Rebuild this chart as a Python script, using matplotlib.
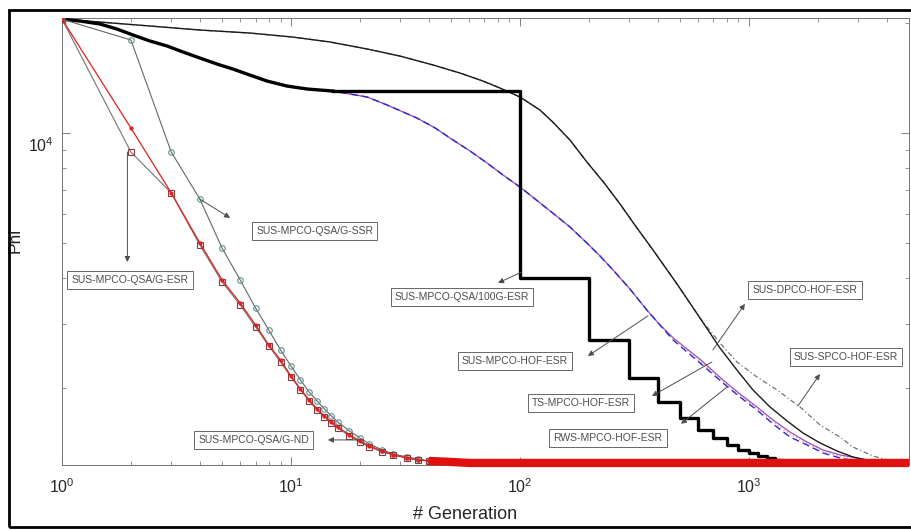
#!/usr/bin/env python
# encoding: utf-8

"""Phi vs generation for the MPCO / SPCO / DPCO variants (log-log)"""

import numpy as np
import matplotlib as mpl
import matplotlib.pyplot as plt
from matplotlib import ticker
from matplotlib.patches import Rectangle
from matplotlib.transforms import ScaledTranslation

mpl.rcParams.update({
    "font.family": ["Liberation Sans", "DejaVu Sans"],
    "mathtext.fontset": "custom",
    "mathtext.rm": "Liberation Sans",
    "axes.linewidth": 0.7,
    "axes.edgecolor": "0.45",
})

# --- QSA per-generation runs (markers at integer generations) ---
nd_gen = np.array([1, 2, 3, 4, 5, 6, 7, 8, 9, 10, 11, 12, 13, 14, 15, 16,
                   18, 20, 22, 25, 28, 32, 36, 40, 50, 60, 5000])
nd_phi = np.array([20510, 10320, 6850, 4996, 3957, 3421, 2979, 2626, 2388,
                   2159, 1990, 1856, 1753, 1677, 1615, 1565, 1488, 1433,
                   1388, 1346, 1312, 1287, 1271, 1263, 1255, 1247, 1247])

esr_gen = np.array([1, 2, 3, 4, 5, 6, 7, 8, 9, 10, 11, 12, 13, 14, 15, 16,
                    18, 20, 22, 25, 28, 32, 36, 40, 50, 60])
esr_phi = np.array([20510, 8870, 6850, 4933, 3907, 3379, 2941, 2609, 2358,
                    2145, 1977, 1844, 1742, 1667, 1605, 1555, 1479, 1423,
                    1379, 1337, 1312, 1287, 1271, 1263, 1255, 1247])

ssr_gen = np.array([1, 2, 3, 4, 5, 6, 7, 8, 9, 10, 11, 12, 13, 14, 15, 16,
                    18, 20, 22, 25, 28, 32, 36, 40, 50, 60])
ssr_phi = np.array([20510, 17980, 8870, 6590, 4840, 3957, 3316, 2886, 2544,
                    2299, 2105, 1952, 1844, 1753, 1677, 1615, 1526, 1460,
                    1406, 1354, 1320, 1295, 1279, 1263, 1255, 1247])

# --- HOF runs (SUS / TS / RWS selection) ---
hof_gen = np.array([1, 1.198, 1.465, 1.739, 2.04, 2.42, 2.873, 3.376, 4.0,
                    4.753, 5.58, 6.62, 7.86, 9.60, 11.74, 15.26, 21.5, 26.3,
                    35.5, 42.6, 51, 60.5, 71.8, 84.3, 100, 139, 165.3, 196,
                    223.6, 255, 302.2, 358, 408.7, 466, 536.3, 611, 770,
                    913.6, 1083, 1273, 1510, 1792, 2105, 2496, 3052, 3734,
                    5000])
sus_hof_phi = np.array([20510, 20270, 19890, 19270, 18560, 17870, 17320,
                        16670, 16050, 15450, 14970, 14410, 13880, 13450,
                        13200, 13030, 12550, 11930, 10990, 10320, 9568, 8927,
                        8276, 7672, 7113, 6036, 5527, 4996, 4603, 4214, 3737,
                        3274, 2979, 2710, 2512, 2344, 2066, 1890, 1742, 1595,
                        1469, 1397, 1328, 1287, 1255, 1247, 1247])
ts_hof_phi = np.array([20510, 20270, 19890, 19270, 18560, 17870, 17320,
                       16670, 16050, 15450, 14970, 14410, 13880, 13450,
                       13200, 13030, 12550, 11930, 10990, 10320, 9568, 8927,
                       8276, 7672, 7113, 6036, 5527, 4996, 4603, 4214, 3737,
                       3274, 2979, 2750, 2560, 2400, 2105, 1927, 1776, 1636,
                       1516, 1423, 1354, 1312, 1283, 1255, 1247])
rws_hof_phi = np.array([20510, 20270, 19890, 19270, 18560, 17870, 17320,
                        16670, 16050, 15450, 14970, 14410, 13880, 13450,
                        13200, 13030, 12550, 11930, 10990, 10320, 9568, 8927,
                        8276, 7672, 7113, 6036, 5527, 4996, 4603, 4214, 3737,
                        3274, 2979, 2730, 2535, 2370, 2090, 1910, 1760, 1615,
                        1495, 1410, 1342, 1300, 1270, 1250, 1247])

# --- QSA every 100 generations: same start as HOF, plateau, then restarts ---
q100_gen = hof_gen[:16]
q100_phi = sus_hof_phi[:16]
q100_step_gen = np.array([15.26, 100, 200, 300, 400, 500, 600, 700, 800, 900,
                          1000, 1100, 1200, 1300, 1400, 1500, 1600, 5000])
q100_step_phi = np.array([13030, 4006, 2710, 2132, 1833, 1658, 1536, 1460,
                          1397, 1354, 1328, 1303, 1287, 1271, 1263, 1255,
                          1247, 1247])

# --- DPCO / SPCO ---
dpco_gen = np.array([1, 1.465, 2.423, 4.0, 6.62, 10.1, 14.8, 21.5, 29.9,
                     41.7, 54.7, 68.9, 81.8, 100, 122.3, 139, 165.3, 196,
                     235, 273.4, 324.3, 381, 485, 611, 747, 886, 1041, 1235,
                     1466, 1721, 2042, 2423, 2844, 3377, 3926, 5000])
dpco_phi = np.array([20510, 20140, 19640, 19150, 18790, 18330, 17760, 16990,
                     16250, 15360, 14600, 13880, 13280, 12550, 11560, 10720,
                     9568, 8328, 7251, 6391, 5492, 4781, 3858, 3113, 2576,
                     2242, 1977, 1776, 1626, 1507, 1415, 1345, 1295, 1263,
                     1247, 1247])
spco_gen = np.array([1, 1.465, 2.423, 4.0, 6.62, 10.1, 14.8, 21.5, 29.9,
                     41.7, 54.7, 68.9, 81.8, 100, 122.3, 139, 165.3, 196,
                     235, 273.4, 324.3, 381, 485, 611, 747, 886, 1083, 1325,
                     1670, 2042, 2496, 2845, 3479, 4341, 5000])
spco_phi = np.array([20510, 20140, 19640, 19150, 18790, 18330, 17760, 16990,
                     16250, 15360, 14600, 13880, 13280, 12550, 11560, 10720,
                     9568, 8328, 7251, 6391, 5492, 4781, 3858, 3113, 2658,
                     2358, 2145, 1977, 1776, 1585, 1469, 1379, 1303, 1255,
                     1247])


def exp_label(value, pos):
    return r"$\mathregular{10^{%d}}$" % round(np.log10(value))


figure = plt.figure(figsize=(9.11, 5.30), dpi=100)
axes = figure.add_axes([62 / 911, 1 - 465 / 530, 847 / 911, 447 / 530])
axes.set_xscale("log")
axes.set_yscale("log")

axes.plot(dpco_gen, dpco_phi, color="0.1", lw=1.0, zorder=3)
axes.plot(spco_gen, spco_phi, color="0.45", lw=0.9, ls=(0, (4, 2, 1, 2)),
          zorder=2)
axes.plot(hof_gen, rws_hof_phi, color="#f0a0a0", lw=1.0, ls=":", zorder=2)
axes.plot(hof_gen, ts_hof_phi, color="#9a4fc0", lw=0.9, zorder=2)
axes.plot(hof_gen, sus_hof_phi, color="#2c2cc8", lw=1.0, ls=(0, (5, 3)),
          zorder=2)
axes.plot(q100_gen, q100_phi, color="black", lw=2.4, zorder=4)
axes.plot(q100_step_gen, q100_step_phi, color="black", lw=2.4,
          drawstyle="steps-post", zorder=4)

axes.plot(ssr_gen, ssr_phi, color="0.4", lw=0.8, marker="o", ms=4,
          mfc="none", mec="#5f9090", mew=0.8, zorder=5)
axes.plot(esr_gen, esr_phi, color="0.45", lw=0.8, marker="s", ms=4,
          mfc="none", mec="#8a3a3a", mew=0.8, zorder=5)
axes.plot(nd_gen, nd_phi, color="#e02020", lw=0.9, marker=".", ms=4,
          markevery=slice(0, -1), zorder=5)
tail = nd_gen >= 40
axes.plot(nd_gen[tail], nd_phi[tail], color="#e01010", lw=6,
          solid_capstyle="butt", zorder=7, clip_on=False)

axes.set_xlim(1, 5000)
axes.set_ylim(1231, 20660)
axes.xaxis.set_major_locator(ticker.LogLocator(base=10))
axes.xaxis.set_minor_locator(ticker.LogLocator(base=10, subs=np.arange(2, 10)))
axes.xaxis.set_major_formatter(ticker.FuncFormatter(exp_label))
axes.xaxis.set_minor_formatter(ticker.NullFormatter())
axes.yaxis.set_major_locator(ticker.FixedLocator([1e4]))
axes.yaxis.set_minor_locator(ticker.LogLocator(base=10, subs=np.arange(2, 10),
                                               numticks=20))
axes.yaxis.set_major_formatter(ticker.FuncFormatter(exp_label))
axes.yaxis.set_minor_formatter(ticker.NullFormatter())
axes.tick_params(which="both", direction="in", top=True, right=True,
                 colors="0.5", labelcolor="0.15", labelsize=11.5)
axes.tick_params(which="major", length=6, width=0.7)
axes.tick_params(which="minor", length=3, width=0.6)
axes.tick_params(axis="x", pad=9)
axes.tick_params(axis="y", pad=6)
for label in axes.get_yticklabels():
    label.set_transform(label.get_transform()
                        + ScaledTranslation(0, -8 / 72,
                                            figure.dpi_scale_trans))

axes.set_xlabel("# Generation", fontsize=13, color="0.15")
axes.set_ylabel("Phi", fontsize=12.5, color="0.15")
axes.xaxis.set_label_coords(0.476, -0.092)
axes.yaxis.set_label_coords(-0.047, 0.503)


def tag(text, center, tail_xy, head_xy):
    axes.text(center[0], center[1], text, ha="center", va="center",
              fontsize=7.5, color="0.3", zorder=8, clip_on=False,
              bbox=dict(boxstyle="square,pad=0.4", fc="white", ec="0.4",
                        lw=0.7))
    axes.annotate("", xy=head_xy, xytext=tail_xy, zorder=8,
                  arrowprops=dict(arrowstyle="-|>", color="0.3", lw=0.7,
                                  mutation_scale=8, shrinkA=0, shrinkB=0))


tag("SUS-MPCO-QSA/G-ESR", (1.98, 3957), (1.93, 8870), (1.93, 4431))
tag("SUS-MPCO-QSA/G-SSR", (12.7, 5389), (4.0, 6590), (5.42, 5852))
tag("SUS-MPCO-QSA/100G-ESR", (55.8, 3551), (102, 4160), (80.2, 3882))
tag("SUS-MPCO-HOF-ESR", (95.1, 2373), (362, 3153), (198, 2449))
tag("TS-MPCO-HOF-ESR", (185, 1820), (689, 2358), (377, 1902))
tag("RWS-MPCO-HOF-ESR", (242, 1460), (802, 2013), (505, 1596))
tag("SUS-DPCO-HOF-ESR", (1756, 3715), (696, 2544), (960, 3401))
tag("SUS-SPCO-HOF-ESR", (2652, 2433), (1637, 1787), (2042, 2186))
tag("SUS-MPCO-QSA/G-ND", (6.89, 1442), (20.0, 1442), (14.5, 1442))

figure.add_artist(Rectangle((8.5 / 911, 3 / 530), 1.0, 0.976,
                            transform=figure.transFigure, fill=False,
                            lw=2.0, ec="black"))

plt.savefig("out.png", dpi=100)
